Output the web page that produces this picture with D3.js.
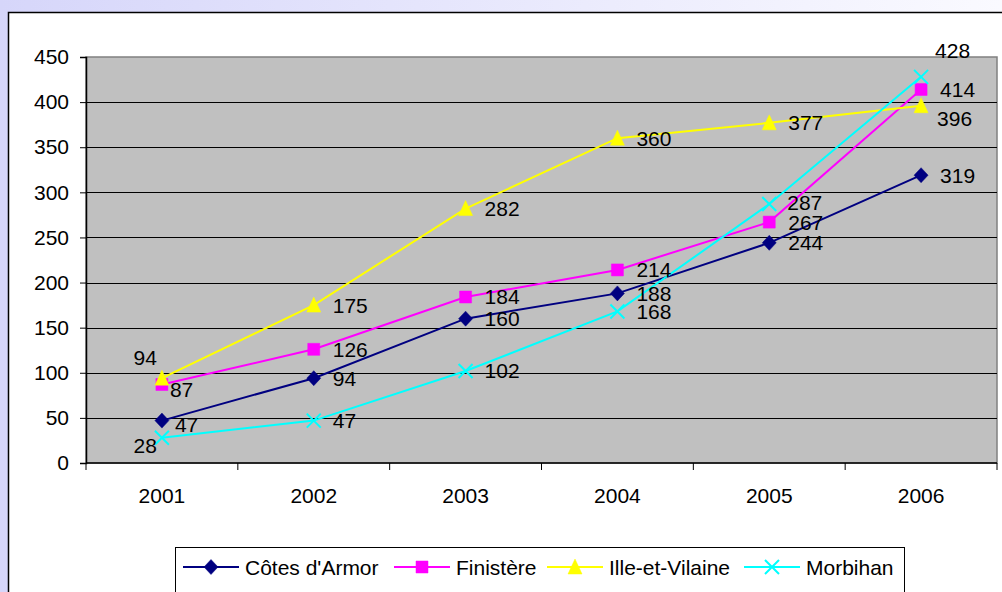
<!DOCTYPE html>
<html>
<head>
<meta charset="utf-8">
<script src="https://cdn.jsdelivr.net/npm/d3@7.9.0/dist/d3.min.js"></script>
<style>
  html, body { margin: 0; padding: 0; background: #fff; }
  svg { display: block; font-family: "Liberation Sans", Arial, sans-serif; }
</style>
</head>
<body>
<svg id="chart" width="1002" height="592"></svg>
<script>
// data
const years = ['2001', '2002', '2003', '2004', '2005', '2006'];
const seriesNames = ["Côtes d'Armor", 'Finistère', 'Ille-et-Vilaine', 'Morbihan'];
const cotesArmor = [47, 94, 160, 188, 244, 319];
const finistere = [87, 126, 184, 214, 267, 414];
const illeEtVilaine = [94, 175, 282, 360, 377, 396];
const morbihan = [28, 47, 102, 168, 287, 428];
const yTicks = [0, 50, 100, 150, 200, 250, 300, 350, 400, 450];

const seriesValues = [cotesArmor, finistere, illeEtVilaine, morbihan];
const colors = ['#000080', '#ff00ff', '#ffff00', '#00ffff'];
const markers = ['diamond', 'square', 'triangle', 'cross'];

// label nudges (layout only), keyed "series-index"
const labelNudge = {
    '0-0': { dx: 13, dy: 4 },
    '1-0': { dx: 8, dy: 5 },
    '2-0': { dx: -5, dy: -21, anchor: 'end' },
    '2-5': { dx: 16, dy: 13 },
    '3-0': { dx: -5, dy: 8, anchor: 'end' },
    '3-4': { dx: 18, dy: -2 },
    '3-5': { dx: 14, dy: -26 }
};

const svg = d3.select('#chart');
const W = 1002, H = 592;
const plot = { left: 86, top: 57, right: 997, bottom: 463 };

// outer background
const defs = svg.append('defs');
const grad = defs.append('linearGradient').attr('id', 'bg').attr('x1', '0').attr('x2', '1').attr('y1', '0').attr('y2', '0');
grad.append('stop').attr('offset', '0').attr('stop-color', '#d6d6fa');
grad.append('stop').attr('offset', '1').attr('stop-color', '#fafaff');
svg.append('rect').attr('width', W).attr('height', H).attr('fill', 'url(#bg)');
svg.append('rect').attr('x', 8.5).attr('y', 12.5).attr('width', W).attr('height', H)
    .attr('fill', '#fff').attr('stroke', '#000').attr('stroke-width', 1.5);

const x = d3.scalePoint().domain(years).range([plot.left, plot.right]).padding(0.5);
const y = d3.scaleLinear().domain([0, 450]).range([plot.bottom, plot.top]);

// plot area
svg.append('rect')
    .attr('x', plot.left).attr('y', plot.top)
    .attr('width', plot.right - plot.left).attr('height', plot.bottom - plot.top)
    .attr('fill', '#c0c0c0').attr('stroke', '#808080').attr('stroke-width', 1.5);

// gridlines
svg.append('g').selectAll('line').data(yTicks.filter(d => d > 0 && d < 450)).join('line')
    .attr('x1', plot.left).attr('x2', plot.right)
    .attr('y1', d => Math.round(y(d)) + 0.5).attr('y2', d => Math.round(y(d)) + 0.5)
    .attr('stroke', '#000').attr('stroke-width', 1);

// y axis
const yAxis = svg.append('g').attr('transform', `translate(${plot.left},0)`)
    .call(d3.axisLeft(y).tickValues(yTicks).tickSize(6).tickPadding(11).tickFormat(d3.format('d')));
yAxis.select('.domain').attr('stroke', '#000').attr('stroke-width', 1.5);
yAxis.selectAll('.tick line').attr('stroke', '#000');
yAxis.selectAll('text').attr('font-size', 21).attr('fill', '#000')
    .attr('font-family', '"Liberation Sans", Arial, sans-serif');

// x axis with ticks between categories
const step = x.step();
const xAxis = svg.append('g').attr('transform', `translate(0,${plot.bottom})`);
xAxis.append('line').attr('x1', plot.left).attr('x2', plot.right).attr('stroke', '#000').attr('stroke-width', 1.5);
xAxis.selectAll('.tk').data(d3.range(years.length + 1)).join('line')
    .attr('x1', i => plot.left + i * step).attr('x2', i => plot.left + i * step)
    .attr('y1', 0).attr('y2', 7).attr('stroke', '#000');
xAxis.selectAll('text').data(years).join('text')
    .attr('x', d => x(d)).attr('y', 40)
    .attr('text-anchor', 'middle').attr('font-size', 21).text(d => d);

function markerPath(type) {
    if (type === 'diamond') return 'M0,-7.5L7,0L0,7.5L-7,0Z';
    if (type === 'square') return 'M-6,-6H6V6H-6Z';
    if (type === 'triangle') return 'M0,-8L7,7H-7Z';
    return 'M-7,-7L7,7M7,-7L-7,7';
}

function drawMarker(g, type, color) {
    const p = g.append('path').attr('d', markerPath(type));
    if (type === 'cross') p.attr('fill', 'none').attr('stroke', color).attr('stroke-width', 2);
    else p.attr('fill', color).attr('stroke', color).attr('stroke-width', 0.5);
}

const line = d3.line().x((d, i) => x(years[i])).y(d => y(d));

seriesValues.forEach((vals, s) => {
    const g = svg.append('g');
    g.append('path').datum(vals).attr('d', line)
        .attr('fill', 'none').attr('stroke', colors[s]).attr('stroke-width', 2);
    vals.forEach((v, i) => {
        const m = g.append('g').attr('transform', `translate(${x(years[i])},${y(v)})`);
        drawMarker(m, markers[s], colors[s]);
    });
});

// data labels on top
seriesValues.forEach((vals, s) => {
    vals.forEach((v, i) => {
        const n = labelNudge[`${s}-${i}`] || { dx: 19, dy: 0 };
        svg.append('text')
            .attr('x', x(years[i]) + n.dx)
            .attr('y', y(v) + n.dy + 7.5)
            .attr('text-anchor', n.anchor || 'start')
            .attr('font-size', 21).attr('fill', '#000')
            .text(v);
    });
});

// legend
const legend = svg.append('g');
legend.append('rect').attr('x', 175.5).attr('y', 547.5).attr('width', 729).attr('height', 60)
    .attr('fill', '#fff').attr('stroke', '#000').attr('stroke-width', 1);
const legendX = [183, 394, 547, 744];
seriesNames.forEach((name, s) => {
    const lg = legend.append('g').attr('transform', `translate(${legendX[s]},567)`);
    lg.append('line').attr('x1', 0).attr('x2', 56).attr('stroke', colors[s]).attr('stroke-width', 2);
    const m = lg.append('g').attr('transform', 'translate(28,0)');
    drawMarker(m, markers[s], colors[s]);
    lg.append('text').attr('x', 62).attr('y', 7.5).attr('font-size', 21).text(name);
});
</script>
</body>
</html>
